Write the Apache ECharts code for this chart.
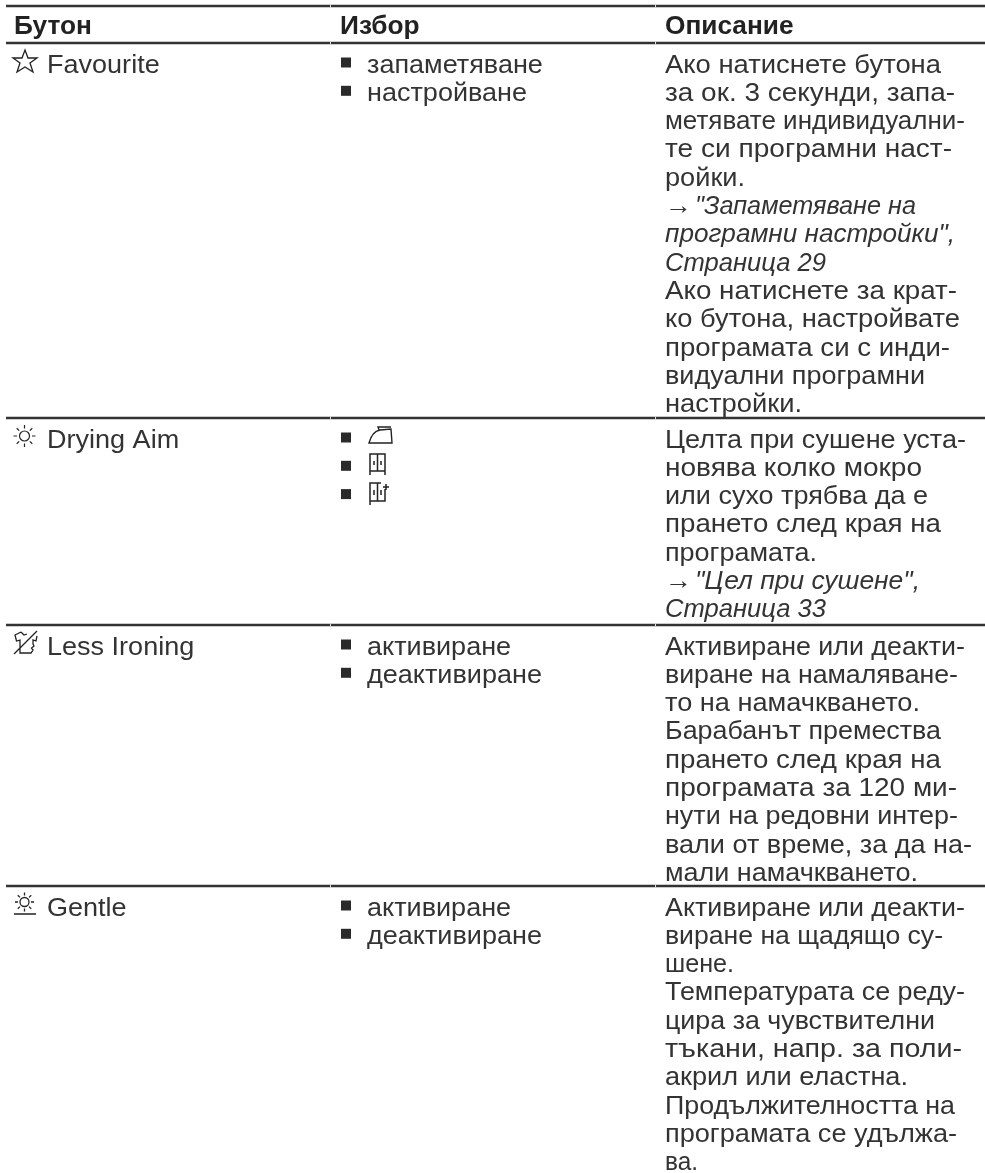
<!DOCTYPE html>
<html><head><meta charset="utf-8">
<style>html,body{margin:0;padding:0;background:#fff}#c{width:985px;height:1173px}</style>
<script src="https://cdn.jsdelivr.net/npm/echarts@6/dist/echarts.min.js"></script>
</head><body><div id="c"></div>
<script>
const headers = ['Бутон', 'Избор', 'Описание'];
const buttons = ['Favourite', 'Drying Aim', 'Less Ironing', 'Gentle'];
const choices = [
  ['запаметяване', 'настройване'],
  ['', '', ''],
  ['активиране', 'деактивиране'],
  ['активиране', 'деактивиране']
];
const descriptions = [
  ['Ако натиснете бутона','за ок. 3 секунди, запа-','метявате индивидуални-','те си програмни наст-','ройки.',
   '→ *"Запаметяване на','*програмни настройки",','*Страница 29',
   'Ако натиснете за крат-','ко бутона, настройвате','програмата си с инди-','видуални програмни','настройки.'],
  ['Целта при сушене уста-','новява колко мокро','или сухо трябва да е','прането след края на','програмата.',
   '→ *"Цел при сушене",','*Страница 33'],
  ['Активиране или деакти-','виране на намаляване-','то на намачкването.','Барабанът премества','прането след края на','програмата за 120 ми-','нути на редовни интер-','вали от време, за да на-','мали намачкването.'],
  ['Активиране или деакти-','виране на щадящо су-','шене.','Температурата се реду-','цира за чувствителни','тъкани, напр. за поли-','акрил или еластна.','Продължителността на','програмата се удължа-','ва.']
];

/* layout constants (not data): the set width of each description line */
const lineWidths = [
  [276,290,300,287,80,221,290,161,292,295,285,260,137],
  [301,257,263,276,152,225,161],
  [300,293,255,276,276,292,293,307,253],
  [300,278,69,300,270,297,243,290,292,33]
];
const W = 985, H = 1173;
const PITCH = 28.3, FS = 25.5, INK = '#333333', RULE = '#333333';
const FONT = '"Liberation Sans", Arial, sans-serif';
const COLX = [14, 340, 665], NAMEX = 47, CHOICEX = 367;
const TOPRULE = 6, HEADRULE = 43, PAD = 22.5, HEADY = 27;
const ROWTOP = [43, 418, 625, 886];
const TEXTSCALE = 1.06, HEADSCALE = 1.03, ARROWGAP = 30;

const ICONS = {
  star: 'M25 50 L28 58 L37 58 L30 63 L33 72 L25 67 L17 72 L20 63 L13 58 L22 58 Z',
  shirt: 'M21 632 L15 635 L16.5 641 L20 640 L20 653 L31 653 L33 650 L31.5 648 L34 646 L33 644 L33 640 L36 641 L37 636 M21 632 L24 635 L27 634 M14 654 L37 631',
  iron: 'M369 443 C371 435 375 431 380 430 L391 429 L392 443 Z M379 430 L378 427 L391 427',
  ward: 'M370 475 L370 454 L385 454 L385 475 M370 471 L385 471 M377.5 454 L377.5 471 M374 461 L374 465 M381 461 L381 465',
  wardp: 'M370 505 L370 483 L381 483 M370 501 L385 501 L385 489 M377.5 483 L377.5 501 M374 490 L374 495 M381 490 L381 495 M386 484 L386 490 M383 487 L389 487'
};
function sunPath(cx, cy, r, a, b) {
  let d = `M${cx + r} ${cy} A${r} ${r} 0 1 1 ${cx - r} ${cy} A${r} ${r} 0 1 1 ${cx + r} ${cy} `;
  for (let k = 0; k < 8; k++) {
    const t = k * Math.PI / 4, c = Math.cos(t), s = Math.sin(t);
    d += `M${cx + a * c} ${cy + a * s} L${cx + b * c} ${cy + b * s} `;
  }
  return d;
}
ICONS.sun = sunPath(24.5, 436, 5, 7.5, 11);
ICONS.gentle = sunPath(24.5, 902, 4.5, 6.5, 9.5) + 'M14 914 L36 914';

const ctx = document.createElement('canvas').getContext('2d');
function fontOf(m) { return `${m.italic ? 'italic ' : ''}${m.bold ? 'bold ' : ''}${FS}px ${FONT}`; }
function fit(m, target) {
  ctx.font = fontOf(m);
  m.sx = target / ctx.measureText(m.s).width;
  return m;
}

const marks = [];
function addDesc(x, y, s, target) {
  const parts = s.split('*');
  if (parts.length === 2) {
    if (parts[0]) marks.push({ k: 't', x, y, s: parts[0], sx: TEXTSCALE });
    marks.push(fit({ k: 't', x: x + (parts[0] ? ARROWGAP : 0), y, s: parts[1], italic: true }, target));
  } else {
    marks.push(fit({ k: 't', x, y, s }, target));
  }
}
headers.forEach((h, i) => marks.push({ k: 't', x: COLX[i], y: HEADY, s: h, bold: true, sx: HEADSCALE }));
const ruleYs = [TOPRULE, HEADRULE].concat(ROWTOP.slice(1));
ruleYs.forEach(y => marks.push({ k: 'r', x1: 6, x2: W, y }));
[330, 655].forEach(x => ruleYs.forEach(y => marks.push({ k: 'g', x, y })));
buttons.forEach((b, r) => {
  const y0 = ROWTOP[r] + PAD;
  marks.push({ k: 't', x: NAMEX, y: y0, s: b, sx: TEXTSCALE });
  choices[r].forEach((c, j) => {
    const y = y0 + j * PITCH;
    marks.push({ k: 'b', x: 346, y: y - 3 });
    if (c) marks.push({ k: 't', x: CHOICEX, y, s: c, sx: TEXTSCALE });
  });
  descriptions[r].forEach((l, j) => addDesc(COLX[2], y0 + j * PITCH, l, lineWidths[r][j]));
});
[ ['star', 1.3], ['sun', 1.2], ['shirt', 1.3], ['gentle', 1.3], ['iron', 1.4], ['ward', 1.5], ['wardp', 1.5] ]
  .forEach(([n, w]) => marks.push({ k: 'i', n, w }));

const chart = echarts.init(document.getElementById('c'), null, { renderer: 'canvas' });
chart.setOption({
  animation: false,
  backgroundColor: '#ffffff',
  grid: { left: 0, right: 0, top: 0, bottom: 0 },
  xAxis: { type: 'value', min: 0, max: W, show: false },
  yAxis: { type: 'value', min: 0, max: H, inverse: true, show: false },
  series: [{
    type: 'custom',
    coordinateSystem: 'cartesian2d',
    silent: true,
    clip: false,
    data: marks.map((m, i) => [m.x || 0, m.y || 0, i]),
    renderItem(params, api) {
      const m = marks[api.value(2)];
      const p = api.coord([m.x || 0, m.y || 0]);
      if (m.k === 't') {
        return { type: 'text', x: p[0], y: p[1], scaleX: m.sx, style: {
          text: m.s, fill: m.bold ? '#222' : INK, verticalAlign: 'middle', align: 'left',
          font: fontOf(m)
        } };
      }
      if (m.k === 'r') {
        const a = api.coord([m.x1, m.y]), b = api.coord([m.x2, m.y]);
        return { type: 'rect', shape: { x: a[0], y: a[1] - 1.25, width: b[0] - a[0], height: 2.5 }, style: { fill: RULE } };
      }
      if (m.k === 'g') {
        return { type: 'rect', shape: { x: p[0], y: p[1] - 1.5, width: 1, height: 3 }, style: { fill: '#ddd' }, z2: 5 };
      }
      if (m.k === 'b') {
        return { type: 'rect', shape: { x: p[0] - 5, y: p[1] - 5, width: 10, height: 10 }, style: { fill: '#2a2a2a' } };
      }
      return { type: 'path', shape: { pathData: ICONS[m.n] }, style: { fill: 'none', stroke: '#222', lineWidth: m.w } };
    }
  }]
});
</script></body></html>
